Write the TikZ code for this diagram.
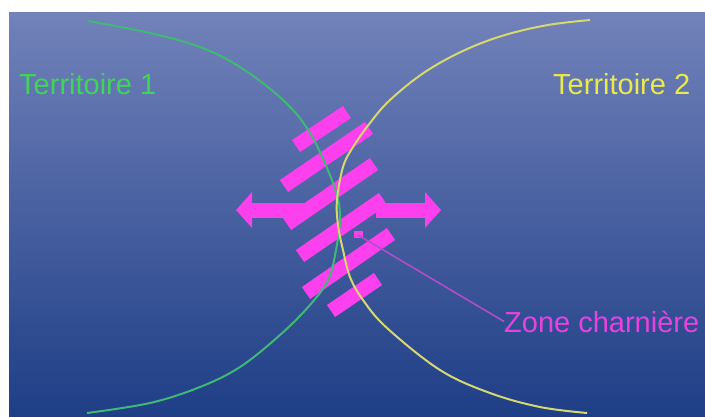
\documentclass[tikz,border=0pt]{standalone}
\usepackage{fontspec}
\setmainfont{Liberation Sans}
\usetikzlibrary{arrows.meta}
\definecolor{bgtop}    {RGB}{114,130,186}
\definecolor{bgbot}    {RGB}{30,62,134}
\definecolor{hinge}    {RGB}{252,64,238}
\definecolor{hingetxt} {RGB}{232,66,222}
\definecolor{pointer}  {RGB}{178,76,200}
\definecolor{terra}    {RGB}{62,214,86}
\definecolor{terraline}{RGB}{64,184,118}
\definecolor{terrb}    {RGB}{234,234,72}
\definecolor{terrbline}{RGB}{214,216,112}

\begin{document}
\begin{tikzpicture}[x=1pt, y=-1pt,
  lbl/.style={font=\fontsize{29}{34}\selectfont, inner sep=0pt, anchor=base west},
  bar/.style={draw=hinge, line width=14.5pt},
  push/.style={draw=hinge, line width=15pt, -{Triangle[length=16pt, width=35pt]}},
  edge1/.style={draw=terraline, line width=2pt},
  edge2/.style={draw=terrbline, line width=2pt}
]
\useasboundingbox (0,0) rectangle (705,416);
\fill[white] (0,0) rectangle (705,416);
\shade[top color=bgtop, bottom color=bgbot] (9,12) rectangle (705,416);

% arrows either side of the hinge
\coordinate (la) at (305,210); \coordinate (lt) at (236,210);
\coordinate (ra) at (376,210); \coordinate (rt) at (441,210);
\draw[push] (la) -- (lt);
\draw[push] (ra) -- (rt);

% the hinge strips
\draw[bar] (296,146) -- (347,112);
\draw[bar] (284,186) -- (369,128);
\draw[bar] (287,224) -- (374,164);
\draw[bar] (300,256) -- (383,199);
\draw[bar] (306,293) -- (391,234);
\draw[bar] (331,311) -- (378,279);
\fill[hinge] (354,231) rectangle (363,238);

% territory borders
\draw[edge1] plot[smooth, tension=0.6] coordinates {(88,21) (150,33) (200,47) (240,67) (283,100) (310,133) (333,183) (340,215) (336,250) (328,280) (310,305) (280,335) (240,367) (200,387) (150,403) (87,413)};
\draw[edge2] plot[smooth, tension=0.6] coordinates {(590,20) (548,25) (505,35) (465,50) (425,72) (390,100) (370,123) (353,147) (343,167) (337,200) (338,225) (343,250) (350,277) (363,300) (387,328) (440,370) (490,393) (540,407) (587,413)};

% labels
\node[lbl, text=terra] (t1) at (19,94) {Territoire 1};
\node[lbl, text=terrb] (t2) at (553,94) {Territoire 2};
\node[lbl, text=hingetxt] (zc) at (504,332) {Zone charnière};
\coordinate (zp) at (358,235);
\draw[pointer, line width=1.6pt] (zc.west) -- (zp);
\end{tikzpicture}
\end{document}
